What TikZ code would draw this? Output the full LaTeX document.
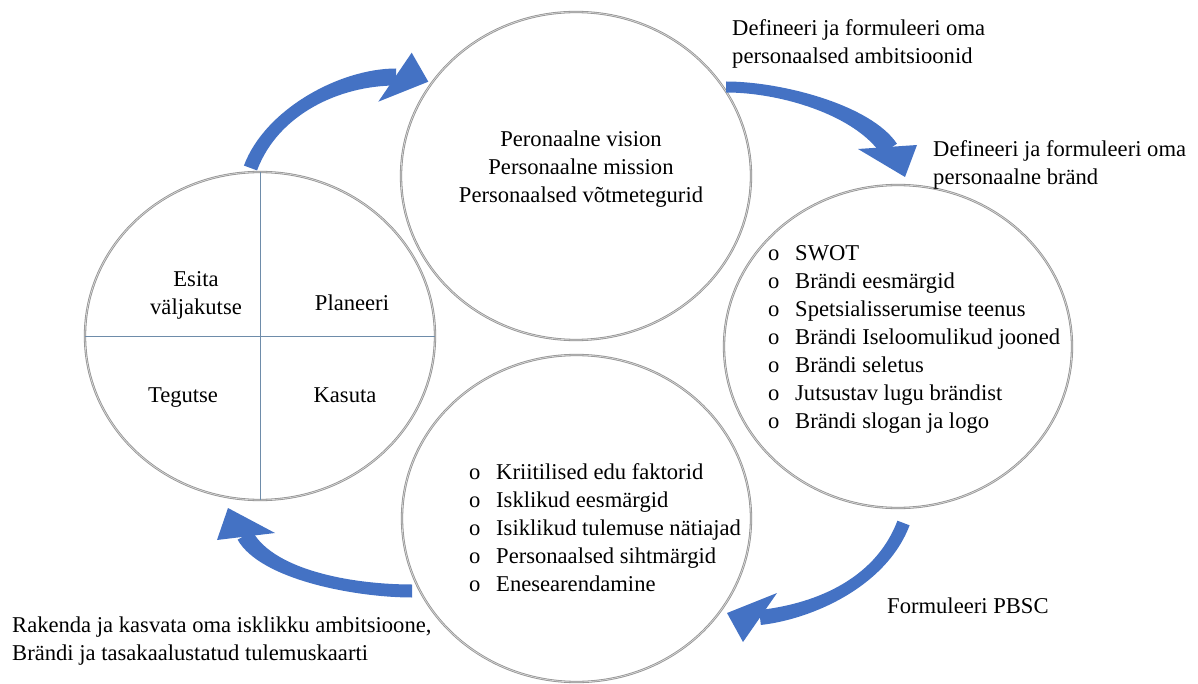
\documentclass[tikz,border=0pt]{standalone}
\usepackage{fontspec}
\setmainfont{Liberation Serif}
\usetikzlibrary{shapes.geometric,calc}
\definecolor{arrblue}{HTML}{4472C4}
\definecolor{divblue}{RGB}{110,140,170}
\newcommand{\bl}{\makebox[27pt][l]{o}}
% tapered curved shaft: #1 start, #2 control 1, #3 control 2, #4 end, #5 half width at start, #6 half width at end
\newcommand{\taperShaft}[6]{%
  \fill[shaftfill] ($(#1)!#5!90:(#2)$) .. controls ($(#2)!#5!-90:(#1)$) and ($(#3)!#6!90:(#4)$) .. ($(#4)!#6!-90:(#3)$)
    -- ($(#4)!#6!90:(#3)$) .. controls ($(#3)!#6!-90:(#4)$) and ($(#2)!#5!90:(#1)$) .. ($(#1)!#5!-90:(#2)$) -- cycle;}
\begin{document}
\begin{tikzpicture}[x=1pt,y=-1pt,
  ring/.style={ellipse, draw=gray!85, line width=0.8pt, double=gray!30, double distance=0.7pt, inner sep=0pt, minimum width=350pt, minimum height=328pt},
  txt/.style={inner sep=0pt, font=\fontsize{22.6}{28}\selectfont},
  shaftfill/.style={fill=arrblue},
  head/.style={fill=arrblue},
  divider/.style={draw=divblue, line width=0.8pt}]
\useasboundingbox (0,0) rectangle (1198,684);

% circles
\node[ring] (ctop) at (576,176) {};
\node[ring, minimum width=348pt, minimum height=323pt] (cright) at (898,346.5) {};
\node[ring] (cleft) at (260,336) {};
\node[ring, minimum width=349pt, minimum height=327pt] (cbottom) at (576.5,518.5) {};

% dividers of the left circle
\draw[divider] (cleft.north) -- (cleft.south);
\draw[divider] (cleft.west) -- (cleft.east);

% arrow 1 (left -> top)
\coordinate (a1s) at (250.5,168);
\coordinate (a1c) at (271.5,111.6);
\coordinate (a1d) at (340,77);
\coordinate (a1e) at (396,77);
\coordinate (a1a) at (411.7,52.7);
\coordinate (a1t) at (428.3,81.7);
\coordinate (a1b) at (378.3,101.7);
\taperShaft{a1s}{a1c}{a1d}{a1e}{7pt}{8.5pt}
\fill[head] (a1a) -- (a1t) -- (a1b) -- cycle;

% arrow 2 (top -> right)
\coordinate (a2s) at (726,87);
\coordinate (a2c) at (781,87);
\coordinate (a2d) at (863,110);
\coordinate (a2e) at (889,149);
\coordinate (a2a) at (858,149);
\coordinate (a2t) at (905,177);
\coordinate (a2b) at (917,145);
\taperShaft{a2s}{a2c}{a2d}{a2e}{5.5pt}{9.5pt}
\fill[head] (a2a) -- (a2t) -- (a2b) -- cycle;

% arrow 3 (right -> bottom)
\coordinate (a3s) at (903.5,523);
\coordinate (a3c) at (880,585);
\coordinate (a3d) at (810,612);
\coordinate (a3e) at (760,617.5);
\coordinate (a3a) at (777,593);
\coordinate (a3t) at (727,613);
\coordinate (a3b) at (743,642);
\taperShaft{a3s}{a3c}{a3d}{a3e}{6.5pt}{7.5pt}
\fill[head] (a3a) -- (a3t) -- (a3b) -- cycle;

% arrow 4 (bottom -> left)
\coordinate (a4s) at (412,591);
\coordinate (a4c) at (357,591);
\coordinate (a4d) at (268,576);
\coordinate (a4e) at (245,535.5);
\coordinate (a4a) at (217,540);
\coordinate (a4t) at (228,508);
\coordinate (a4b) at (275,533);
\taperShaft{a4s}{a4c}{a4d}{a4e}{6.5pt}{8.5pt}
\fill[head] (a4a) -- (a4t) -- (a4b) -- cycle;

% texts in circles
\node[txt, anchor=north, align=center] (ttop) at (581,130.6) {Peronaalne vision\\Personaalne mission\\Personaalsed võtmetegurid};
\node[txt, anchor=north west, align=left] (tright) at (768,245) {\bl SWOT\\\bl Brändi eesmärgid\\\bl Spetsialisserumise teenus\\\bl Brändi Iseloomulikud jooned\\\bl Brändi seletus\\\bl Jutsustav lugu brändist\\\bl Brändi slogan ja logo};
\node[txt, anchor=north west, align=left] (tbottom) at (469,463.6) {\bl Kriitilised edu faktorid\\\bl Isklikud eesmärgid\\\bl Isiklikud tulemuse nätiajad\\\bl Personaalsed sihtmärgid\\\bl Enesearendamine};
\node[txt, anchor=north, align=center] (tesita) at (196,271.6) {Esita\\väljakutse};
\node[txt, anchor=base] (tplan) at (352,310) {Planeeri};
\node[txt, anchor=base] (tteg) at (183,402) {Tegutse};
\node[txt, anchor=base] (tkas) at (345,402) {Kasuta};

% labels
\node[txt, anchor=north west, align=left] (l1) at (732,19.6) {Defineeri ja formuleeri oma\\personaalsed ambitsioonid};
\node[txt, anchor=north west, align=left] (l2) at (933,140.6) {Defineeri ja formuleeri oma\\personaalne bränd};
\node[txt, anchor=base west] (l3) at (887,613) {Formuleeri PBSC};
\node[txt, anchor=north west, align=left] (l4) at (12,616.6) {Rakenda ja kasvata oma isklikku ambitsioone,\\Brändi ja tasakaalustatud tulemuskaarti};
\end{tikzpicture}
\end{document}
